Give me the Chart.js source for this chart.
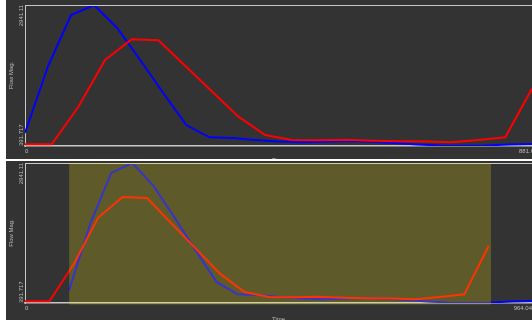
<!DOCTYPE html>
<html>
<head>
<meta charset="utf-8">
<script src="https://cdn.jsdelivr.net/npm/chart.js@4"></script>
<style>
  html, body { margin: 0; padding: 0; background: #fff; overflow: hidden; width: 532px; height: 320px; }
  .panel { position: absolute; left: 6px; width: 526px; height: 166px; background: #333; overflow: hidden; }
  #p1 { top: 0; }
  #p2 { top: 159px; border-top: 2px solid #fff; }
  canvas { display: block; }
</style>
</head>
<body>
<div class="panel" id="p1"><canvas id="c1" width="526" height="166"></canvas></div>
<div class="panel" id="p2"><canvas id="c2" width="526" height="166"></canvas></div>
<script>
// ── Data ────────────────────────────────────────────────────
const flowMin = 391.717;
const flowMax = 2941.11;

const timeRed = [0, 46.4, 92.8, 139.2, 185.6, 232, 278.4, 324.8, 371.2, 417.6,
                 464, 510.4, 556.8, 603.2, 649.6, 696, 742.4, 788.8, 835.2, 881.6];
const flowRed = [422, 422, 1102, 1947, 2321, 2303, 1842, 1381, 922, 591,
                 500, 495, 506, 488, 479, 473, 459, 500, 549, 1430];

const timeBlueTop = [0, 40.1, 80.1, 120.2, 160.3, 200.4, 240.4, 280.5, 320.6, 360.7, 400.7, 440.8,
                     480.9, 521, 561, 601.1, 641.2, 681.3, 721.3, 761.4, 801.5, 841.6, 881.6];
const timeBlueBottom = [84, 124.1, 164.1, 204.2, 244.3, 284.4, 324.4, 364.5, 404.6, 444.7, 484.7, 524.8,
                        564.9, 605, 645, 685.1, 725.2, 765.3, 805.3, 845.4, 885.5, 925.6, 965.6];
const flowBlue = [627, 1838, 2760, 2941, 2525, 1947, 1350, 771, 549, 536, 500, 473,
                  459, 469, 482, 469, 446, 419, 401, 397, 401, 419, 428];

const timeMaxTop = 881.6;
const timeMaxBottom = 964.04;
const shadeRange = [84, 886];

// ── Styles ──────────────────────────────────────────────────
const AXIS = '#c8c8c8';
const TEXT = '#bdbdbd';
const FONT = '"Liberation Sans", Arial, sans-serif';
const SHADE = 'rgba(255, 230, 10, 0.22)';

const pts = (xs, ys) => xs.map((x, i) => ({ x: x, y: ys[i] }));

// frame line, shaded window, min/max tick labels
const panelDecor = {
  id: 'panelDecor',
  afterDraw(chart, args, opts) {
    const { ctx, chartArea: a, scales: { x, y } } = chart;
    ctx.save();
    ctx.strokeStyle = AXIS;
    ctx.lineWidth = 1;
    ctx.beginPath();
    ctx.moveTo(a.left, a.top + 0.5);
    ctx.lineTo(a.right, a.top + 0.5);
    ctx.stroke();

    if (opts.shade) {
      const x0 = x.getPixelForValue(opts.shade[0]);
      const x1 = x.getPixelForValue(opts.shade[1]);
      ctx.fillStyle = SHADE;
      ctx.fillRect(x0, a.top, x1 - x0, a.bottom - a.top + 1.5);
    }

    ctx.fillStyle = TEXT;
    ctx.font = '6px ' + FONT;
    ctx.textBaseline = 'alphabetic';
    ctx.textAlign = 'left';
    ctx.fillText('0', x.getPixelForValue(0), a.bottom + 7);
    ctx.textAlign = opts.maxAlign;
    ctx.fillText(opts.maxLabel, x.getPixelForValue(x.max) + opts.maxDx, a.bottom + 7);

    const lx = a.left - 4;
    ctx.textBaseline = 'middle';
    ctx.save();
    ctx.translate(lx, y.getPixelForValue(flowMax));
    ctx.rotate(-Math.PI / 2);
    ctx.textAlign = 'right';
    ctx.fillText(String(flowMax), 0, 0);
    ctx.restore();
    ctx.save();
    ctx.translate(lx, y.getPixelForValue(flowMin));
    ctx.rotate(-Math.PI / 2);
    ctx.textAlign = 'left';
    ctx.fillText(String(flowMin), 0, 0);
    ctx.restore();
    ctx.restore();
  }
};

function makeChart(id, blueTimes, xMax, topPad, xHeight, titlePad, decor) {
  return new Chart(document.getElementById(id), {
    type: 'line',
    data: {
      datasets: [
        { data: pts(timeRed, flowRed), borderColor: '#ff0000', borderWidth: 2 },
        { data: pts(blueTimes, flowBlue), borderColor: '#0000ff', borderWidth: 2 }
      ]
    },
    options: {
      responsive: false,
      animation: false,
      devicePixelRatio: 1,
      layout: { padding: { top: topPad, left: 0, right: 0, bottom: 0 } },
      elements: { point: { radius: 0 }, line: { tension: 0 } },
      plugins: { legend: { display: false }, tooltip: { enabled: false }, panelDecor: decor },
      scales: {
        x: {
          type: 'linear', min: 0, max: xMax,
          grid: { display: false },
          border: { color: AXIS, width: 1.5 },
          ticks: { display: false },
          title: { display: true, text: 'Time', color: TEXT, font: { family: FONT, size: 6 }, padding: { top: 0, bottom: titlePad } },
          afterFit: s => { s.height = xHeight; }
        },
        y: {
          min: flowMin, max: flowMax,
          grid: { display: false },
          border: { color: AXIS, width: 1 },
          ticks: { display: false },
          title: { display: true, text: 'Flow Mag.', color: TEXT, font: { family: FONT, size: 6 }, padding: { top: 2, bottom: 0 } },
          afterFit: s => { s.width = 19; }
        }
      }
    },
    plugins: [panelDecor]
  });
}

makeChart('c1', timeBlueTop, timeMaxTop, 5, 20, 2,
  { maxLabel: '881.64', maxAlign: 'left', maxDx: -13, shade: null });
makeChart('c2', timeBlueBottom, timeMaxBottom, 2, 24, 4.4,
  { maxLabel: '964.04', maxAlign: 'right', maxDx: 0, shade: shadeRange });
</script>
</body>
</html>
